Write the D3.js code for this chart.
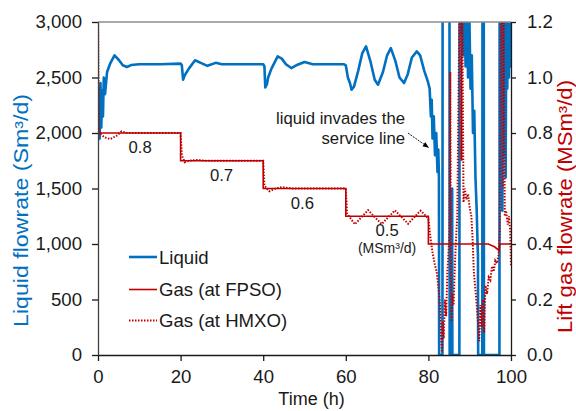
<!DOCTYPE html>
<html>
<head>
<meta charset="utf-8">
<script src="https://cdn.jsdelivr.net/npm/d3@7"></script>
<style>
body{margin:0;background:#fff}
text{font-family:"Liberation Sans",Arial,sans-serif}
</style>
</head>
<body>
<script>
const w=576
const h=411
const m={left:98,right:65,top:22,bottom:56}

// liquid flowrate (Sm3/d) vs time (h)
const liquid=[[0,1930],[0.2,2400],[0.4,1950],[0.6,2450],[0.8,2050],[1.0,2380],[1.2,2150],[1.4,2500],[1.7,2350],[2.2,2550],[3,2630],[4,2700],[5,2660],[6,2610],[7,2595],[8,2612],[10,2620],[15,2620],[20,2625],[20.3,2610],[20.6,2480],[21,2520],[22,2580],[23.5,2655],[25,2630],[26.5,2605],[28.5,2632],[30,2620],[40,2620],[40.3,2600],[40.5,2410],[40.9,2440],[41.2,2500],[42,2580],[43.5,2690],[44.5,2670],[45.5,2620],[46.8,2585],[48,2610],[50,2640],[52,2620],[59.5,2620],[60,2610],[60.5,2500],[61,2450],[61.4,2390],[62,2420],[63,2560],[64,2720],[64.9,2780],[66,2640],[67,2480],[67.8,2435],[69,2550],[70,2700],[70.9,2765],[72,2650],[73,2500],[74.1,2450],[75,2530],[76,2680],[77.2,2735],[78,2700],[79,2560],[79.9,2460],[80.3,2400],[80.6,2150],[80.8,2300],[81.0,1950],[81.3,2150],[81.6,1800],[81.9,2000],[82.2,1650],[82.4,1850],[82.55,1600],[82.6,0],[83.4,0],[83.45,3600],[85.1,3600],[85.15,0],[85.7,0],[85.75,1500],[85.8,0],[87.5,0],[87.55,3500],[87.8,2900],[88.1,3400],[88.4,2700],[88.7,3300],[89.0,2600],[89.3,3200],[89.6,2500],[89.9,3100],[90.2,2400],[90.5,2700],[90.8,2000],[91.1,2200],[91.4,1600],[91.7,1300],[91.9,1000],[92.0,900],[92.05,0],[93.05,0],[93.1,3600],[93.4,3600],[93.45,0],[97.2,0],[97.25,3600],[97.5,2700],[97.7,3400],[97.9,1300],[98.1,3400],[98.3,1800],[98.5,3500],[98.7,1600],[98.9,3300],[99.1,2400],[99.3,3400],[99.5,2500],[99.7,3300],[99.9,2600],[100,3300]]

// lift gas at FPSO (MSm3/d)
const gasFPSO=[[0,1.25],[0.1,0.8],[20,0.8],[20,0.7],[40,0.7],[40,0.6],[60,0.6],[60,0.5],[80,0.5],[80,0.4],[94.5,0.4],[96,0.39],[97.1,0.377],[97.3,0.4],[100,0.4]]

// lift gas at HMXO (MSm3/d)
const gasHMXO=[[0,1.25],[0.2,0.82],[0.4,0.8],[1.5,0.785],[3,0.778],[4.5,0.79],[5.7,0.806],[7,0.8],[20,0.8],[20.3,0.72],[21,0.695],[22,0.7],[24,0.703],[26,0.7],[40,0.7],[40.3,0.61],[41.5,0.59],[43,0.6],[44.5,0.605],[47,0.6],[60,0.6],[60.3,0.51],[62.2,0.471],[63.8,0.497],[65.4,0.522],[67,0.497],[68.7,0.472],[70.3,0.497],[71.9,0.521],[73.5,0.497],[75.1,0.473],[76.6,0.497],[78.1,0.52],[79.5,0.5],[80,0.49],[80.3,0.45],[80.6,0.41],[81,0.37],[81.5,0.33],[82,0.3],[82.4,0.25],[82.8,0.18],[83.1,0.05],[83.3,0.01],[83.5,0.12],[83.7,0.06],[84,0.2],[84.3,0.14],[84.6,0.3],[84.9,0.38],[85.1,0.45],[85.3,1.02],[85.45,0.3],[85.6,0.12],[85.8,0.22],[86.1,0.18],[86.4,0.32],[86.7,0.42],[87,0.5],[87.3,0.95],[87.5,1.25],[87.8,1.25],[88,0.7],[88.2,1.25],[88.5,0.55],[88.8,0.6],[89.2,0.56],[89.6,0.58],[90,0.53],[90.4,0.5],[90.7,0.42],[91,0.3],[91.3,0.25],[91.6,0.2],[92,0.12],[92.3,0.05],[92.6,0.18],[92.9,0.1],[93.2,0.2],[93.5,0.08],[93.8,0.25],[94.2,0.22],[94.6,0.28],[95,0.27],[95.4,0.32],[95.8,0.3],[96.2,0.34],[96.6,0.33],[97,0.36],[97.3,0.45],[97.5,1.25],[97.8,1.25],[98,0.6],[98.2,1.25],[98.5,0.5],[98.8,0.52],[99.2,0.47],[99.5,0.5],[99.8,0.45],[100,0.32]]

const xTicks=[0,20,40,60,80,100]
const yTicks=[0,500,1000,1500,2000,2500,3000]
const y2Ticks=[0,0.2,0.4,0.6,0.8,1.0,1.2]
// step labels: [time, gas value, text]
const stepLabels=[[10.2,0.8,"0.8"],[29.9,0.7,"0.7"],[49.5,0.6,"0.6"],[70,0.5,"0.5"]]
const legendItems=["Liquid","Gas (at FPSO)","Gas (at HMXO)"]

const blue="#0070C0"
const red="#C00000"

const x=d3.scaleLinear().domain([0,100]).range([m.left,w-m.right])
const y=d3.scaleLinear().domain([0,3000]).range([h-m.bottom,m.top])
const y2=d3.scaleLinear().domain([0,1.2]).range([h-m.bottom,m.top])

const svg=d3.create("svg")
    .attr("width",w)
    .attr("height",h)

svg.append("defs").append("clipPath").attr("id","clip")
    .append("rect")
    .attr("x",m.left).attr("y",m.top)
    .attr("width",w-m.right-m.left).attr("height",h-m.bottom-m.top)

const plot=svg.append("g").attr("clip-path","url(#clip)")

const line=d3.line().x(d=>x(d[0])).y(d=>y(d[1]))
const line2=d3.line().x(d=>x(d[0])).y(d=>y2(d[1]))

plot.append("path").datum(liquid)
    .attr("d",line).attr("fill","none")
    .attr("stroke",blue).attr("stroke-width",2.6).attr("stroke-linejoin","round")

plot.append("path").datum(gasFPSO)
    .attr("d",line2).attr("fill","none")
    .attr("stroke",red).attr("stroke-width",1.6)

plot.append("path").datum(gasHMXO)
    .attr("d",line2).attr("fill","none")
    .attr("stroke",red).attr("stroke-width",2).attr("stroke-dasharray","1.5,1.5")

// top frame
svg.append("line")
    .attr("x1",m.left).attr("x2",w-m.right)
    .attr("y1",m.top).attr("y2",m.top)
    .attr("stroke","#8c8c8c").attr("stroke-width",1.5)

const fs="18.6px"

const gx=svg.append("g")
    .attr("transform",`translate(0,${h-m.bottom})`)
    .call(d3.axisBottom(x).tickValues(xTicks).tickSize(6).tickPadding(9).tickSizeOuter(0))
const gy=svg.append("g")
    .attr("transform",`translate(${m.left},0)`)
    .call(d3.axisLeft(y).tickValues(yTicks).tickFormat(d3.format(",")).tickSize(6).tickPadding(10).tickSizeOuter(0))
const gy2=svg.append("g")
    .attr("transform",`translate(${w-m.right},0)`)
    .call(d3.axisRight(y2).tickValues(y2Ticks).tickFormat(d3.format(".1f")).tickSize(5).tickPadding(11).tickSizeOuter(0))

for(const g of [gx,gy,gy2]){
    g.selectAll("text").attr("font-size",fs).attr("fill","#1a1a1a")
        .attr("font-family","Liberation Sans,Arial,sans-serif")
    g.selectAll("line").attr("stroke","#1a1a1a").attr("stroke-width",1.3)
    g.select(".domain").attr("stroke","#1a1a1a").attr("stroke-width",1.3)
}
gy.select(".domain").attr("stroke","#404040")

// axis titles
svg.append("text")
    .attr("x",(m.left+w-m.right)/2+7).attr("y",405)
    .attr("text-anchor","middle").attr("font-size","18px").attr("fill","#1a1a1a")
    .text("Time (h)")

svg.append("text")
    .attr("transform",`translate(28,210.5) rotate(-90)`)
    .attr("text-anchor","middle").attr("font-size","19.5px").attr("fill",blue)
    .attr("textLength",233).attr("lengthAdjust","spacingAndGlyphs")
    .text("Liquid flowrate (Sm³/d)")

svg.append("text")
    .attr("transform",`translate(572,206.5) rotate(-90)`)
    .attr("text-anchor","middle").attr("font-size","19.5px").attr("fill",red)
    .attr("textLength",253).attr("lengthAdjust","spacingAndGlyphs")
    .text("Lift gas flowrate (MSm³/d)")

// step labels
svg.selectAll(".step").data(stepLabels).enter().append("text")
    .attr("x",d=>x(d[0])).attr("y",d=>y2(d[1])+20)
    .attr("text-anchor","middle").attr("font-size","16.7px").attr("fill","#1a1a1a")
    .text(d=>d[2])

svg.append("text")
    .attr("x",x(70)).attr("y",y2(0.5)+36.5)
    .attr("text-anchor","middle").attr("font-size","14px").attr("fill","#1a1a1a")
    .text("(MSm³/d)")

// annotation
svg.append("text")
    .attr("x",405).attr("y",124)
    .attr("text-anchor","end").attr("font-size","16.7px").attr("fill","#1a1a1a")
    .text("liquid invades the")
svg.append("text")
    .attr("x",405).attr("y",143.5)
    .attr("text-anchor","end").attr("font-size","16.7px").attr("fill","#1a1a1a")
    .text("service line")

svg.select("defs").append("marker")
    .attr("id","arrow").attr("viewBox","0 0 10 10")
    .attr("refX",9).attr("refY",5)
    .attr("markerWidth",7).attr("markerHeight",7)
    .attr("orient","auto")
    .append("path").attr("d","M0,1 L10,5 L0,9 Z").attr("fill","#000")

svg.append("line")
    .attr("x1",408).attr("y1",133)
    .attr("x2",x(80)).attr("y2",y(1870))
    .attr("stroke","#000").attr("stroke-width",0.9)
    .attr("stroke-dasharray","2,1")
    .attr("marker-end","url(#arrow)")

// legend
const legY=[257,289.5,320.5]
const leg=svg.selectAll(".leg").data(legendItems).enter().append("g")
    .attr("transform",(d,i)=>`translate(129,${legY[i]})`)
leg.append("line")
    .attr("x1",0).attr("x2",28)
    .attr("stroke",(d,i)=>i==0?blue:red)
    .attr("stroke-width",(d,i)=>i==0?2.6:i==1?1.6:2)
    .attr("stroke-dasharray",(d,i)=>i==2?"1.5,1.5":null)
leg.append("text")
    .attr("x",30).attr("dy","0.35em")
    .attr("font-size",fs).attr("fill","#1a1a1a")
    .text(d=>d)

d3.select("body").append(()=>svg.node())
</script>
</body>
</html>
